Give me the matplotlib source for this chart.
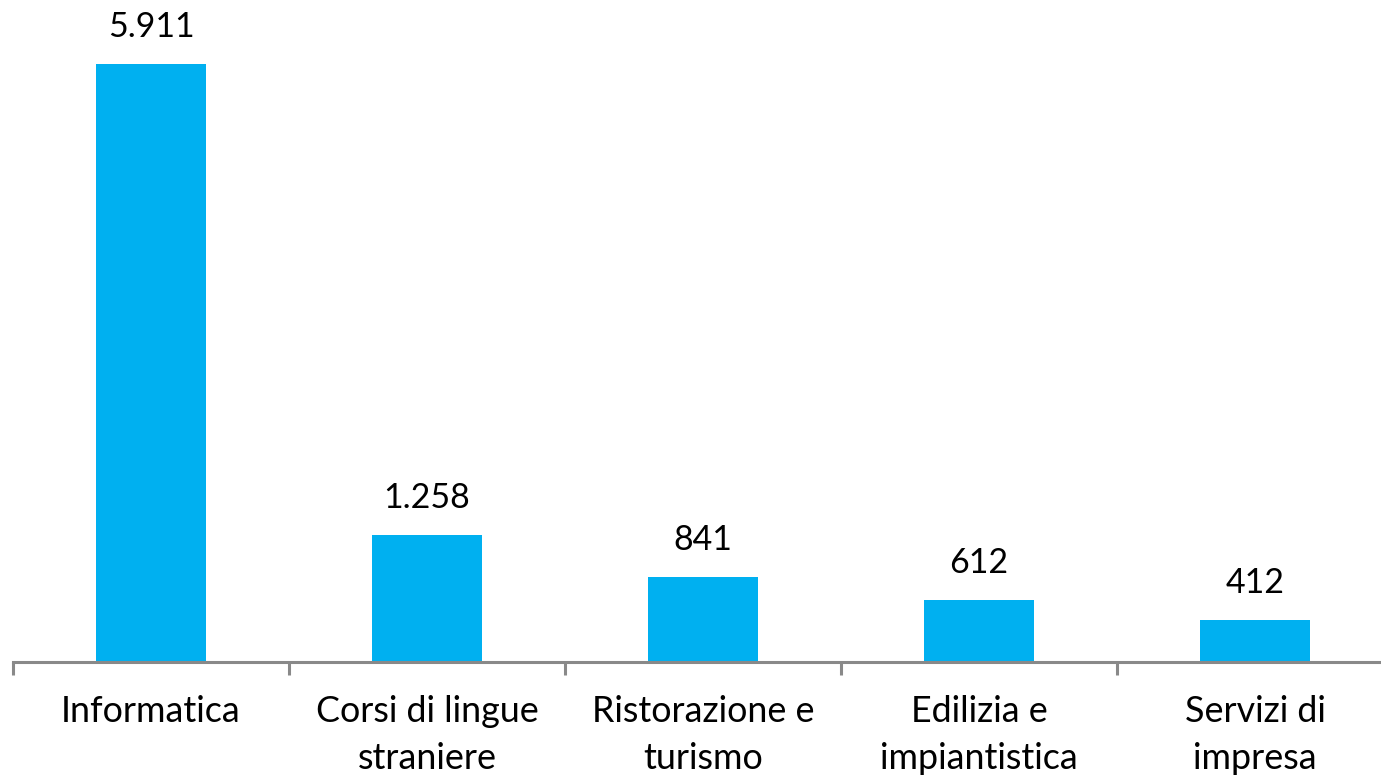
import matplotlib
matplotlib.use("Agg")
import matplotlib.pyplot as plt

categories = ["Informatica", "Corsi di lingue\nstraniere", "Ristorazione e\nturismo",
              "Edilizia e\nimpiantistica", "Servizi di\nimpresa"]
values = [5911, 1258, 841, 612, 412]
value_labels = ["5.911", "1.258", "841", "612", "412"]

plt.rcParams['font.family'] = ['Lato', 'DejaVu Sans']

W, H = 1381, 775
fig = plt.figure(figsize=(W / 100, H / 100), dpi=100)
left = 13 / W
width = 276 * 5 / W
bottom = 1 - 662 / H
top_px = 0
ax = fig.add_axes([left, bottom, width, (662 - top_px) / H])

x = list(range(len(values)))
ax.bar(x, values, width=0.4, color="#00B0F0")
ax.set_xlim(-0.5, len(values) - 0.5)
ax.set_ylim(0, 5911 * 662 / 598)

for xi, v, lab in zip(x, values, value_labels):
    ax.annotate(lab, (xi, v), xytext=(0, 27), textcoords="offset pixels",
                ha="center", va="baseline", fontsize=24.5, color="#000000")

for s in ["top", "right", "left"]:
    ax.spines[s].set_visible(False)
ax.spines["bottom"].set_color("#898989")
ax.spines["bottom"].set_linewidth(2.2)
ax.set_yticks([])

ax.set_xticks([i - 0.5 for i in range(len(values) + 1)])
ax.set_xticklabels([])
ax.tick_params(axis="x", length=9, width=2.2, color="#898989", direction="out")
ax.set_xticks(x, minor=True)
ax.set_xticklabels(categories, minor=True, fontsize=25.8, linespacing=1.5)
ax.tick_params(axis="x", which="minor", length=0, pad=24)

fig.savefig("out.png", dpi=100)
